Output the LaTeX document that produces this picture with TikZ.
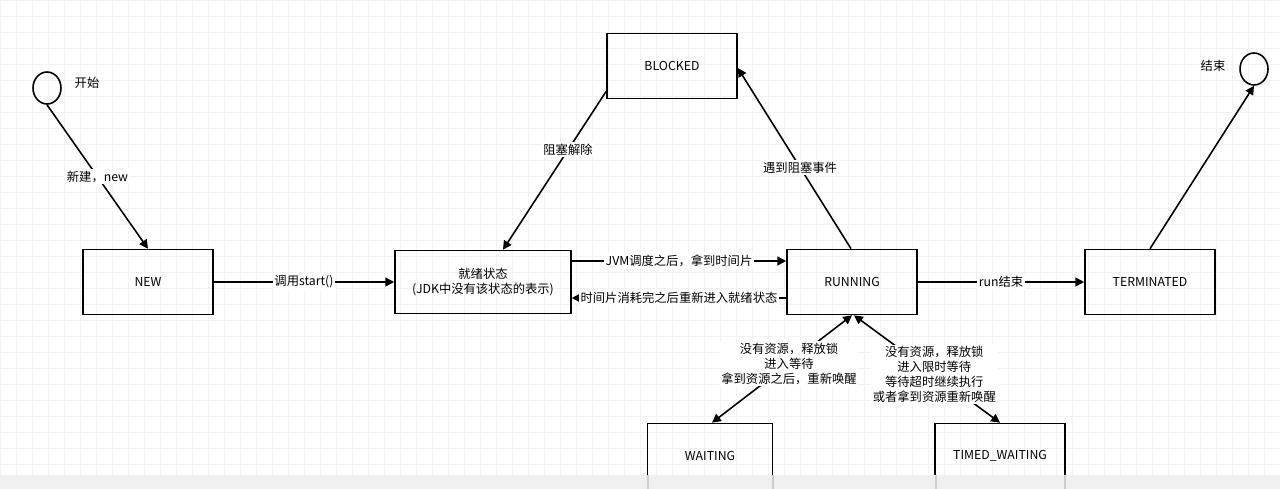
\documentclass[tikz,border=0pt]{standalone}
\usepackage{fontspec}
\setmainfont{Noto Sans CJK SC}
\usetikzlibrary{arrows.meta,shapes.geometric}
\begin{document}
\begin{tikzpicture}[x=0.02cm,y=-0.02cm,
  st/.style={draw,line width=0.9pt,minimum width=2.6cm,minimum height=1.3cm,font=\fontsize{7}{8.5}\selectfont,inner sep=0pt,align=center},
  ar/.style={line width=0.9pt,-{Triangle[length=5pt,width=5pt]}},
  lb/.style={fill=white,inner sep=1pt,font=\fontsize{7}{8.5}\selectfont,align=center},
  tx/.style={font=\fontsize{7}{8.5}\selectfont}]
\useasboundingbox (0,0) rectangle (1280,489);
\draw[gray!10,line width=0.3pt,step=0.32cm] (0,0) grid (1280,489);
\node[draw,line width=0.9pt,ellipse,minimum width=0.56cm,minimum height=0.64cm,inner sep=0pt] (s) at (47,88) {};
\node[tx] (sl) at (87,83) {开始};
\node[draw,line width=0.9pt,ellipse,minimum width=0.56cm,minimum height=0.64cm,inner sep=0pt] (e) at (1254,69) {};
\node[tx] (el) at (1213,66) {结束};
\node[st] (new) at (148,282) {NEW};
\node[st,minimum width=3.52cm,minimum height=1.26cm] (rdy) at (483,282) {就绪状态\\(JDK中没有该状态的表示)};
\node[st] (blk) at (672,66) {BLOCKED};
\node[st] (run) at (852,282) {RUNNING};
\node[st] (ter) at (1150,282) {TERMINATED};
\node[st,minimum width=2.5cm] (wt) at (710,456) {WAITING};
\node[st] (tw) at (1000,456) {TIMED\_WAITING};
\fill[gray!12] (0,475) rectangle (1280,489);
\draw[gray!40,line width=0.9pt] (648,475) -- (648,489) (773,475)--(773,489) (936,475)--(936,489) (1065,475)--(1065,489);
\draw[ar] (s.south) -- node[lb]{新建，new} (new.north);
\draw[ar] (new) -- node[lb]{调用start()} (rdy);
\draw[ar] ([yshift=0.42cm]rdy.east) -- node[lb]{JVM调度之后，拿到时间片} ([yshift=0.42cm]run.west);
\draw[ar] ([yshift=-0.32cm]run.west) -- node[lb]{时间片消耗完之后重新进入就绪状态} ([yshift=-0.32cm]rdy.east);
\draw[ar] ([yshift=0.16cm]blk.south west) -- node[lb,pos=0.37]{阻塞解除} ([xshift=0.4cm]rdy.north);
\draw[ar] ([xshift=-0.02cm]run.north) -- node[lb,pos=0.45]{遇到阻塞事件} ([yshift=-0.04cm]blk.east);
\draw[ar] (run) -- node[lb]{run结束} (ter);
\draw[ar] (ter.north) -- (e.south);
\draw[line width=0.9pt,{Triangle[length=5pt,width=5pt]}-{Triangle[length=5pt,width=5pt]}] ([xshift=0.04cm]wt.north) -- node[lb,pos=0.55]{没有资源，释放锁\\进入等待\\拿到资源之后，重新唤醒} (run.south);
\draw[line width=0.9pt,{Triangle[length=5pt,width=5pt]}-{Triangle[length=5pt,width=5pt]}] ([xshift=0.04cm]run.south) -- node[lb,pos=0.55]{没有资源，释放锁\\进入限时等待\\等待超时继续执行\\或者拿到资源重新唤醒} (tw.north);
\end{tikzpicture}
\end{document}
